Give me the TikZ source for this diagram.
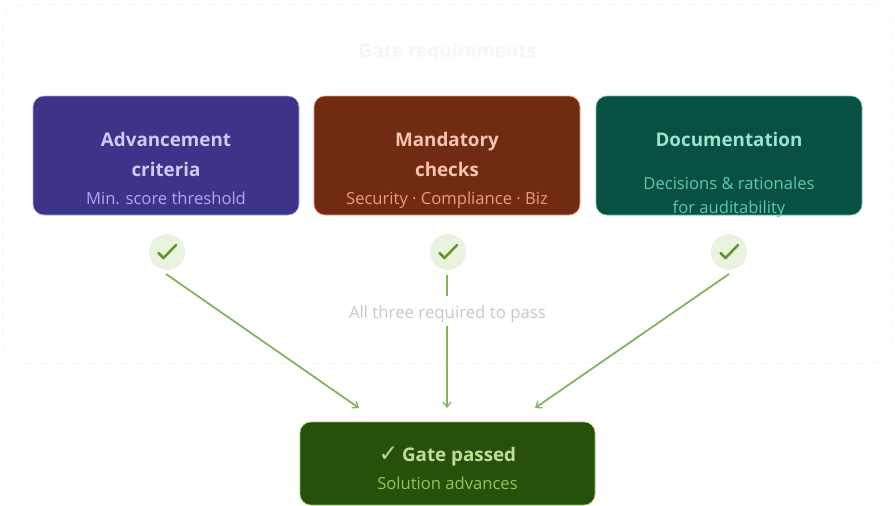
\documentclass[tikz,border=0pt]{standalone}
\usepackage{fontspec}
\setmainfont{Open Sans}
\newfontfamily\symfont{DejaVu Sans}
\usetikzlibrary{arrows.meta}
\definecolor{pFill}{HTML}{3C3489}\definecolor{pEdge}{HTML}{AFA9EC}\definecolor{pHead}{HTML}{CECBF6}\definecolor{pSub}{HTML}{AFA9EC}
\definecolor{bFill}{HTML}{712B13}\definecolor{bEdge}{HTML}{F0997B}\definecolor{bHead}{HTML}{F5C4B3}\definecolor{bSub}{HTML}{F0997B}
\definecolor{tFill}{HTML}{085041}\definecolor{tEdge}{HTML}{5DCAA5}\definecolor{tHead}{HTML}{9FE1CB}\definecolor{tSub}{HTML}{5DCAA5}
\definecolor{gFill}{HTML}{27500A}\definecolor{gEdge}{HTML}{97C459}\definecolor{gHead}{HTML}{C0DD97}\definecolor{gSub}{HTML}{97C459}
\definecolor{flowLine}{HTML}{84B35A}\definecolor{tickFill}{HTML}{EAF3DE}\definecolor{tickInk}{HTML}{5F9626}
\definecolor{faintEdge}{HTML}{F8F8F5}\definecolor{faintText}{HTML}{F7F6F2}\definecolor{noteText}{HTML}{C9C8C2}
\tikzset{
  x=1pt,y=-1pt,
  card/.style={rounded corners=11pt,line width=0.6pt,inner sep=0pt,minimum width=266pt,minimum height=119pt},
  headtxt/.style={font=\fontsize{18.8}{20}\selectfont\bfseries,anchor=base,inner sep=0pt},
  subtxt/.style={font=\fontsize{16.6}{18}\selectfont,anchor=base,inner sep=0pt},
  tickdisc/.style={circle,fill=tickFill,minimum size=36pt,inner sep=0pt},
  tickmark/.style={draw=tickInk,line width=2.5pt,line cap=round,line join=round},
  flow/.style={draw=flowLine,line width=1.8pt,-{Straight Barb[length=5pt,width=8pt,line width=1.3pt]}},
  flowmid/.style={flow,line width=2.4pt},
}
\newcommand{\tickat}[1]{\draw[tickmark] ([shift={(-8.5,1)}]#1.center) -- ([shift={(-3.5,6)}]#1.center) -- ([shift={(9,-7)}]#1.center);}
\begin{document}
\begin{tikzpicture}
\useasboundingbox (0,0) rectangle (895,506);
\node[draw=faintEdge,dashed,dash pattern=on 8pt off 8pt,line width=1.2pt,rounded corners=20pt,minimum width=889pt,minimum height=358pt,inner sep=0pt] (outer) at (447.5,184) {};
\node[headtxt,text=faintText] (title) at (447.5,57) {Gate requirements};

\node[card,fill=pFill,draw=pEdge] (adv) at (166,155.5) {};
\node[card,fill=bFill,draw=bEdge] (man) at (447,155.5) {};
\node[card,fill=tFill,draw=tEdge] (doc) at (729,155.5) {};
\node[card,fill=gFill,draw=gEdge,minimum width=295pt,minimum height=83pt] (gate) at (447.5,463.5) {};

\node[headtxt,text=pHead] (adv1) at (166,146) {Advancement};
\node[headtxt,text=pHead] (adv2) at (166,176) {criteria};
\node[subtxt,text=pSub] (adv3) at (166,204) {Min. score threshold};
\node[headtxt,text=bHead] (man1) at (447,146) {Mandatory};
\node[headtxt,text=bHead] (man2) at (447,176) {checks};
\node[subtxt,text=bSub] (man3) at (447,204) {Security · Compliance · Biz};
\node[headtxt,text=tHead] (doc1) at (729,146) {Documentation};
\node[subtxt,text=tSub] (doc2) at (729,189.5) {Decisions \& rationales};
\node[subtxt,text=tSub] (doc3) at (729,213.5) {for auditability};
\node[headtxt,text=gHead] (gate1) at (447.5,461) {{\symfont\mdseries\fontsize{23}{24}\selectfont ✓}\kern-1pt\ Gate passed};
\node[subtxt,text=gSub] (gate2) at (447.5,489) {Solution advances};

\node[tickdisc] (t1) at (167,252) {};
\node[tickdisc] (t2) at (448,252) {};
\node[tickdisc] (t3) at (729,252) {};
\tickat{t1}\tickat{t2}\tickat{t3}

\coordinate (s1) at (166,274);
\coordinate (s2) at (447,275);
\coordinate (s3) at (729,274);
\coordinate (e1) at (359,408);
\coordinate (e2) at (447,408);
\coordinate (e3) at (535,408);
\draw[flow] (s1) -- (e1);
\draw[flowmid] (s2) -- (e2);
\draw[flow] (s3) -- (e3);
\node[fill=white,text=noteText,font=\fontsize{16.8}{18}\selectfont,anchor=base,text height=22pt,text depth=8pt,inner xsep=2pt,inner ysep=0pt] (note) at (447.5,318) {All three required to pass};
\end{tikzpicture}
\end{document}
